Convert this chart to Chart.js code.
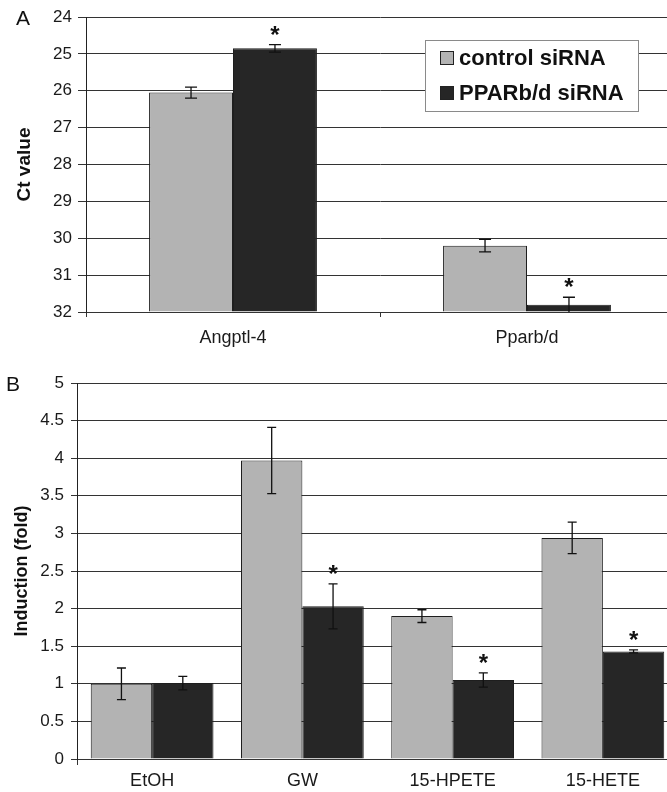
<!DOCTYPE html>
<html>
<head>
<meta charset="utf-8">
<script src="https://cdn.jsdelivr.net/npm/chart.js@4/dist/chart.umd.min.js"></script>
<style>
  html, body { margin: 0; padding: 0; background: #fff; overflow: hidden; width: 667px; height: 792px; }
  .panel { position: absolute; left: 0; }
  .tag { position: absolute; font-family: "Liberation Sans", Arial, sans-serif; font-size: 21px; line-height: 24px; color: #111; }
</style>
</head>
<body>
<div class="panel" style="top:0;"><canvas id="chartA" width="674" height="355"></canvas></div>
<div class="panel" style="top:365px;"><canvas id="chartB" width="678" height="427"></canvas></div>
<div class="tag" style="left:16px;top:6px;">A</div>
<div class="tag" style="left:6px;top:372px;">B</div>
<script>
// panel A - Ct values
const genes = ['Angptl-4', 'Pparb/d'];
const ctrlCt = [26.05, 30.2];
const ctrlCtErr = [0.15, 0.17];
const ppCt = [24.85, 31.8];
const ppCtErr = [0.1, 0.2];
const ppCtSig = [true, true];
const ctTicks = [24, 25, 26, 27, 28, 29, 30, 31, 32];

// panel B - fold induction
const treatments = ['EtOH', 'GW', '15-HPETE', '15-HETE'];
const ctrlFold = [1.0, 3.97, 1.9, 2.94];
const ctrlFoldErr = [0.21, 0.44, 0.085, 0.21];
const ppFold = [1.01, 2.03, 1.05, 1.43];
const ppFoldErr = [0.09, 0.3, 0.095, 0.02];
const ppFoldSig = [false, true, true, true];

const seriesNames = ['control siRNA', 'PPARb/d siRNA'];
const GREY = '#b3b3b3';
const DARK = '#262626';
const FONT = '"Liberation Sans", Arial, sans-serif';

Chart.defaults.font.family = FONT;
Chart.defaults.color = '#1a1a1a';

const errorBars = {
    id: 'errorBars',
    afterDatasetsDraw(chart, args, opts) {
        const { ctx, chartArea } = chart;
        const y = chart.scales.y;
        ctx.save();
        ctx.beginPath();
        ctx.rect(chartArea.left, chartArea.top - 40, chartArea.width, chartArea.height + 40);
        ctx.clip();
        chart.data.datasets.forEach((ds, di) => {
            const meta = chart.getDatasetMeta(di);
            meta.data.forEach((bar, i) => {
                const v = ds.data[i];
                const e = ds.errors[i];
                const p1 = y.getPixelForValue(v + e);
                const p2 = y.getPixelForValue(v - e);
                const top = Math.min(p1, p2);
                const bot = Math.min(Math.max(p1, p2), chartArea.bottom);
                ctx.strokeStyle = '#111';
                ctx.lineWidth = 1.3;
                ctx.beginPath();
                ctx.moveTo(bar.x, top);
                ctx.lineTo(bar.x, bot);
                ctx.moveTo(bar.x - opts.cap, top);
                ctx.lineTo(bar.x + opts.cap, top);
                if (Math.max(p1, p2) < chartArea.bottom) {
                    ctx.moveTo(bar.x - opts.cap, bot);
                    ctx.lineTo(bar.x + opts.cap, bot);
                }
                ctx.stroke();
                if (ds.sig && ds.sig[i]) {
                    ctx.fillStyle = '#111';
                    ctx.font = 'bold 24px ' + FONT;
                    ctx.textAlign = 'center';
                    ctx.textBaseline = 'alphabetic';
                    ctx.fillText('*', bar.x, top - 15 + 13);
                }
            });
        });
        ctx.restore();
    }
};

const boxLegend = {
    id: 'boxLegend',
    afterDraw(chart) {
        const { ctx, chartArea } = chart;
        const x0 = chartArea.left + 339;
        const y0 = chartArea.top + 23;
        ctx.save();
        ctx.fillStyle = '#fff';
        ctx.fillRect(x0, y0, 213, 71);
        ctx.strokeStyle = '#8a8a8a';
        ctx.lineWidth = 1;
        ctx.strokeRect(x0 + 0.5, y0 + 0.5, 213, 71);
        ctx.font = 'bold 22px ' + FONT;
        ctx.textBaseline = 'middle';
        ctx.textAlign = 'left';
        chart.data.datasets.forEach((ds, i) => {
            const cy = y0 + 18 + i * 35;
            ctx.fillStyle = ds.backgroundColor;
            ctx.fillRect(x0 + 15, cy - 7, 14, 14);
            ctx.strokeStyle = '#222';
            ctx.strokeRect(x0 + 15.5, cy - 6.5, 13, 13);
            ctx.fillStyle = '#111';
            ctx.fillText(ds.label, x0 + 34, cy + 1);
        });
        ctx.restore();
    }
};

function barSet(label, data, errors, color, sig, base) {
    const ds = {
        label: label,
        data: data,
        errors: errors,
        sig: sig,
        backgroundColor: color,
        borderColor: '#1e1e1e',
        borderWidth: 1,
        barPercentage: 1
    };
    if (base !== undefined) ds.base = base;
    return ds;
}

let chartA = new Chart(document.getElementById('chartA'), {
    type: 'bar',
    data: {
        labels: genes,
        datasets: [
            barSet(seriesNames[0], ctrlCt, ctrlCtErr, GREY, null, 32),
            barSet(seriesNames[1], ppCt, ppCtErr, DARK, ppCtSig, 32)
        ]
    },
    options: {
        responsive: false,
        animation: false,
        devicePixelRatio: 1,
        layout: { padding: { top: 17, left: 0, right: 0, bottom: 0 } },
        datasets: { bar: { categoryPercentage: 0.571 } },
        plugins: {
            legend: { display: false },
            tooltip: { enabled: false },
            errorBars: { cap: 6 }
        },
        scales: {
            x: {
                afterFit: (s) => { s.height = 43; },
                grid: { drawOnChartArea: false, drawTicks: true, tickLength: 5, color: '#333' },
                border: { display: false },
                ticks: { padding: 10, font: { size: 18 }, color: '#1a1a1a' }
            },
            y: {
                reverse: true,
                min: 24,
                max: 32,
                afterFit: (s) => { s.width = 86; },
                afterBuildTicks: (s) => { s.ticks = ctTicks.map((v) => ({ value: v })); },
                grid: { color: '#333', lineWidth: 1, tickLength: 8 },
                border: { color: '#222', width: 1 },
                ticks: { padding: 6, font: { size: 17 }, color: '#1a1a1a' },
                title: { display: true, text: 'Ct value', font: { size: 19, weight: 'bold' }, color: '#111', padding: { top: 13 } }
            }
        }
    },
    plugins: [errorBars, boxLegend]
});

let chartB = new Chart(document.getElementById('chartB'), {
    type: 'bar',
    data: {
        labels: treatments,
        datasets: [
            barSet(seriesNames[0], ctrlFold, ctrlFoldErr, GREY, null),
            barSet(seriesNames[1], ppFold, ppFoldErr, DARK, ppFoldSig)
        ]
    },
    options: {
        responsive: false,
        animation: false,
        devicePixelRatio: 1,
        layout: { padding: { top: 18, left: 0, right: 0, bottom: 0 } },
        datasets: { bar: { categoryPercentage: 0.817 } },
        plugins: {
            legend: { display: false },
            tooltip: { enabled: false },
            errorBars: { cap: 4.5 }
        },
        scales: {
            x: {
                afterFit: (s) => { s.height = 33; },
                grid: {
                    drawOnChartArea: false,
                    drawTicks: true,
                    tickLength: 6,
                    color: (c) => (c.index === 0 ? '#333' : 'rgba(0,0,0,0)')
                },
                border: { display: false },
                ticks: { padding: 5, font: { size: 18 }, color: '#1a1a1a' }
            },
            y: {
                min: 0,
                max: 5,
                afterFit: (s) => { s.width = 77; },
                grid: { color: '#333', lineWidth: 1, tickLength: 6 },
                border: { color: '#222', width: 1 },
                ticks: { stepSize: 0.5, padding: 7, font: { size: 17 }, color: '#1a1a1a', callback: (v) => String(v) },
                title: { display: true, text: 'Induction (fold)', font: { size: 18, weight: 'bold' }, color: '#111', padding: { top: 11 } }
            }
        }
    },
    plugins: [errorBars]
});
</script>
</body>
</html>
